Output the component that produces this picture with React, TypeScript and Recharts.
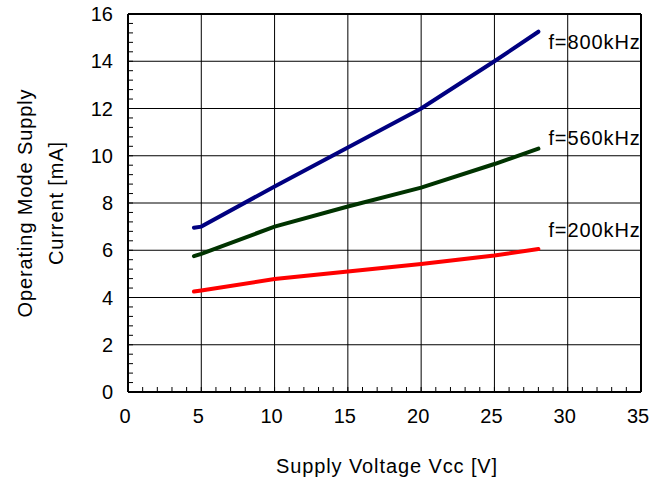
import React from 'react';
import { LineChart, Line, XAxis, YAxis, ReferenceLine } from 'recharts';

// supply voltage (V) sample points
const vcc = [4.5, 5, 10, 15, 20, 25, 28];
// operating mode supply current (mA) per switching frequency
const f800 = [6.95, 7.0, 8.7, 10.35, 12.0, 14.0, 15.25];
const f560 = [5.75, 5.85, 7.0, 7.85, 8.65, 9.65, 10.3];
const f200 = [4.25, 4.3, 4.78, 5.1, 5.42, 5.78, 6.05];

const xMajor = [0, 5, 10, 15, 20, 25, 30, 35];
const yMajor = [0, 2, 4, 6, 8, 10, 12, 14, 16];
const xMinor = Array.from({ length: 36 }, (_, i) => i);
const yMinor = Array.from({ length: 41 }, (_, i) => +(i * 0.4).toFixed(1));

const data = vcc.map((v, i) => ({ vcc: v, f800: f800[i], f560: f560[i], f200: f200[i] }));

const FONT = '"Liberation Sans", Arial, sans-serif';
const SPACING = 0.9;

const isMajor = (v: number, list: number[]) => list.some((m) => Math.abs(m - v) < 1e-6);

const XTick = (props: any) => {
  const { x, y, payload } = props;
  const v = payload.value;
  return (
    <g>
      <line x1={x} x2={x} y1={y} y2={y - 5} stroke="#000" strokeWidth={1} />
      {isMajor(v, xMajor) && (
        <text x={x - 3} y={y + 31} textAnchor="middle" fontSize={20} fontFamily={FONT} fill="#000">
          {v}
        </text>
      )}
    </g>
  );
};

const YTick = (props: any) => {
  const { x, y, payload } = props;
  const v = payload.value;
  return (
    <g>
      <line x1={x} x2={x + 5} y1={y} y2={y} stroke="#000" strokeWidth={1} />
      {isMajor(v, yMajor) && (
        <text x={x - 15} y={y} dy="0.36em" textAnchor="end" fontSize={20} fontFamily={FONT} fill="#000">
          {v}
        </text>
      )}
    </g>
  );
};

const seriesLabel = (text: string, last: number, dy: number) => (p: any) => {
  if (p.index !== last) return <g />;
  return (
    <text x={p.x + 10} y={p.y + dy} dy="0.36em" fontSize={20} letterSpacing={SPACING} fontFamily={FONT} fill="#000">
      {text}
    </text>
  );
};

export default function App() {
  const last = vcc.length - 1;
  return (
    <div style={{ position: 'absolute', left: 0, top: 0, background: '#fff' }}>
      <LineChart width={668} height={481} data={data} margin={{ top: 14, right: 27, bottom: 0, left: 0 }}>
        <XAxis
          dataKey="vcc"
          type="number"
          domain={[0, 35]}
          ticks={xMinor}
          interval={0}
          tickSize={0}
          tickMargin={0}
          tick={<XTick />}
          height={89}
          axisLine={{ stroke: '#000', strokeWidth: 2 }}
          label={{
            content: () => (
              <text x={387} y={466} dy="0.36em" textAnchor="middle" fontSize={20} letterSpacing={SPACING} fontFamily={FONT} fill="#000">
                Supply Voltage Vcc [V]
              </text>
            ),
          }}
        />
        <YAxis
          type="number"
          domain={[0, 16]}
          ticks={yMinor}
          interval={0}
          tickSize={0}
          tickMargin={0}
          tick={<YTick />}
          width={128}
          axisLine={{ stroke: '#000', strokeWidth: 2 }}
          label={{
            content: () => (
              <g fontSize={20} fontFamily={FONT} fill="#000" textAnchor="middle" letterSpacing={SPACING}>
                <text x={25} y={203} dy="0.36em" transform="rotate(-90 25 203)">
                  Operating Mode Supply
                </text>
                <text x={56} y={203} dy="0.36em" transform="rotate(-90 56 203)">
                  Current [mA]
                </text>
              </g>
            ),
          }}
        />
        {xMajor.slice(1, -1).map((v) => (
          <ReferenceLine key={'gx' + v} x={v} stroke="#000" strokeWidth={1} />
        ))}
        {yMajor.slice(1, -1).map((v) => (
          <ReferenceLine key={'gy' + v} y={v} stroke="#000" strokeWidth={1} />
        ))}
        <ReferenceLine x={35} stroke="#000" strokeWidth={2} />
        <ReferenceLine y={16} stroke="#000" strokeWidth={2} />
        <Line
          dataKey="f800"
          stroke="#000080"
          strokeWidth={4}
          strokeLinecap="round"
          dot={false}
          isAnimationActive={false}
          label={seriesLabel('f=800kHz', last, 10)}
        />
        <Line
          dataKey="f560"
          stroke="#003300"
          strokeWidth={4}
          strokeLinecap="round"
          dot={false}
          isAnimationActive={false}
          label={seriesLabel('f=560kHz', last, -11)}
        />
        <Line
          dataKey="f200"
          stroke="#ff0000"
          strokeWidth={4}
          strokeLinecap="round"
          dot={false}
          isAnimationActive={false}
          label={seriesLabel('f=200kHz', last, -19)}
        />
      </LineChart>
    </div>
  );
}
